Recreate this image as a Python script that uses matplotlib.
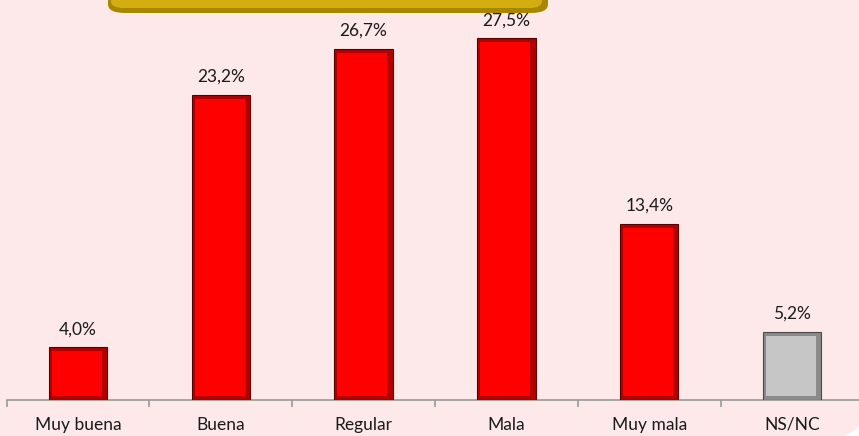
import matplotlib
matplotlib.use("Agg")
import matplotlib.pyplot as plt
from matplotlib.patches import FancyBboxPatch

categories = ["Muy buena", "Buena", "Regular", "Mala", "Muy mala", "NS/NC"]
values = [4.0, 23.2, 26.7, 27.5, 13.4, 5.2]
labels = ["4,0%", "23,2%", "26,7%", "27,5%", "13,4%", "5,2%"]
face_colors = ["#FF0000", "#FF0000", "#FF0000", "#FF0000", "#FF0000", "#C6C6C6"]
rim_colors = ["#B00000", "#B00000", "#B00000", "#B00000", "#B00000", "#8A8A8A"]
edge_colors = ["#5A0000", "#5A0000", "#5A0000", "#5A0000", "#5A0000", "#4A4A4A"]

plt.rcParams['font.family'] = ['Lato', 'DejaVu Sans']

W, H = 859, 436
fig = plt.figure(figsize=(W / 100, H / 100), dpi=100)
fig.patch.set_facecolor("white")

# pink background, only the bottom-right corner rounding is on canvas
bg = FancyBboxPatch((-0.3, -6 / H), 1.3 + 4 / W, 1.4,
                    boxstyle="round,pad=0,rounding_size=0.07",
                    transform=fig.transFigure, facecolor="#FDE9EA",
                    edgecolor="none", zorder=-10)
fig.patches.append(bg)

# gold banner at the top (title box cut off by the crop)
banner = FancyBboxPatch((108 / W, (H - 13) / H), (548 - 108) / W, 0.2,
                        boxstyle="round,pad=0,rounding_size=0.02",
                        transform=fig.transFigure, facecolor="#A88600",
                        edgecolor="none", zorder=5)
fig.patches.append(banner)
banner2 = FancyBboxPatch((111 / W, (H - 8) / H), (542 - 111) / W, 0.2,
                         boxstyle="round,pad=0,rounding_size=0.015",
                         transform=fig.transFigure, facecolor="#D4AE10",
                         edgecolor="none", zorder=6)
fig.patches.append(banner2)

ax = fig.add_axes([6.6 / W, (H - 400) / H, (863.4 - 6.6) / W, 400 / H])
ax.set_facecolor("none")
x = list(range(len(categories)))

bar_w = 0.41
ax.bar(x, values, width=bar_w, color=rim_colors, edgecolor=edge_colors,
       linewidth=0.8, zorder=3)
# bright inner face for the bevel look
inset_x = 0.03
inset_y = 0.3
ax.bar([xi - 0.008 for xi in x], [v - 2 * inset_y for v in values],
       bottom=inset_y, width=bar_w - 2 * inset_x, color=face_colors,
       edgecolor="none", zorder=4)

for xi, v, lab in zip(x, values, labels):
    ax.annotate(lab, (xi, v), xytext=(0, 7), textcoords="offset points",
                ha="center", va="bottom", fontsize=12.5, color="#1a1a1a")

ax.set_xlim(-0.5, len(categories) - 0.5)
ax.set_ylim(0, 30.4)
for s in ["top", "right", "left"]:
    ax.spines[s].set_visible(False)
ax.spines["bottom"].set_color("#9a9a9a")
ax.spines["bottom"].set_linewidth(1.2)
ax.set_yticks([])

ax.set_xticks([i - 0.5 for i in range(len(categories) + 1)], minor=False)
ax.set_xticklabels([])
ax.tick_params(axis="x", which="major", length=5, color="#9a9a9a", width=1.2)
ax.set_xticks(x, minor=True)
ax.set_xticklabels(categories, minor=True)
ax.tick_params(axis="x", which="minor", length=0, pad=12, labelsize=12.5,
               labelcolor="#1a1a1a")

fig.savefig("out.png", dpi=100, facecolor=fig.get_facecolor())
